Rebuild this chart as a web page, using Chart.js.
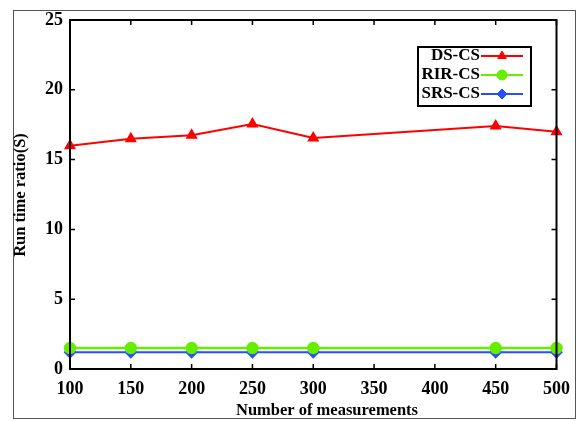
<!DOCTYPE html>
<html>
<head>
<meta charset="utf-8">
<script src="https://cdn.jsdelivr.net/npm/chart.js@4/dist/chart.umd.min.js"></script>
<style>
  html, body { margin: 0; padding: 0; background: #fff; }
  #wrap { position: relative; width: 580px; height: 421px; }
</style>
</head>
<body>
<div id="wrap"><canvas id="runChart" width="580" height="421"></canvas></div>
<script>
const measurements = [100, 150, 200, 250, 300, 450, 500];
const dsCs = [16.0, 16.5, 16.75, 17.55, 16.55, 17.4, 17.0];
const rirCs = [1.5, 1.5, 1.5, 1.5, 1.5, 1.5, 1.5];
const srsCs = [1.2, 1.2, 1.2, 1.2, 1.2, 1.2, 1.2];
const seriesNames = ["DS-CS", "RIR-CS", "SRS-CS"];
const xTitle = "Number of measurements";
const yTitle = "Run time ratio(S)";

const serif = "'Liberation Serif', 'DejaVu Serif', serif";

const toPoints = (vals) => measurements.map((m, i) => ({ x: m, y: vals[i] }));

// frame round the figure, box round the plot, inward ticks, legend top right
const framePlugin = {
  id: "frame",
  beforeDraw(chart) {
    const ctx = chart.ctx;
    ctx.save();
    ctx.fillStyle = "#fff";
    ctx.fillRect(0, 0, chart.width, chart.height);
    ctx.strokeStyle = "#555";
    ctx.lineWidth = 1;
    ctx.strokeRect(13.5, 10.5, 562, 408);
    ctx.restore();
  },
  afterDraw(chart) {
    const ctx = chart.ctx;
    const a = chart.chartArea;
    const xs = chart.scales.x;
    const ys = chart.scales.y;
    ctx.save();
    ctx.strokeStyle = "#000";
    ctx.lineWidth = 2;
    ctx.strokeRect(a.left, a.top, a.right - a.left, a.bottom - a.top);
    ctx.lineWidth = 1.5;
    ctx.beginPath();
    xs.ticks.forEach((t) => {
      const px = xs.getPixelForValue(t.value);
      ctx.moveTo(px, a.bottom); ctx.lineTo(px, a.bottom - 5);
      ctx.moveTo(px, a.top); ctx.lineTo(px, a.top + 5);
    });
    ys.ticks.forEach((t) => {
      const py = ys.getPixelForValue(t.value);
      ctx.moveTo(a.left, py); ctx.lineTo(a.left + 5, py);
      ctx.moveTo(a.right, py); ctx.lineTo(a.right - 5, py);
    });
    ctx.stroke();

    // axis titles
    ctx.fillStyle = "#000";
    ctx.font = "bold 16.5px " + serif;
    ctx.textAlign = "center";
    ctx.textBaseline = "middle";
    ctx.fillText(xTitle, 327, 411);
    ctx.translate(21, 195);
    ctx.rotate(-Math.PI / 2);
    ctx.fillText(yTitle, 0, 0);
    ctx.setTransform(1, 0, 0, 1, 0, 0);

    // legend
    const bx = 418, by = 47, bw = 113, bh = 59;
    ctx.fillStyle = "#fff";
    ctx.fillRect(bx, by, bw, bh);
    ctx.lineWidth = 2;
    ctx.strokeRect(bx, by, bw, bh);
    ctx.font = "bold 17px " + serif;
    ctx.textAlign = "right";
    ctx.textBaseline = "middle";
    chart.data.datasets.forEach((ds, i) => {
      const y = 56 + i * 19;
      ctx.fillStyle = "#000";
      ctx.fillText(ds.label, 480, y);
      ctx.strokeStyle = ds.borderColor;
      ctx.lineWidth = 2;
      ctx.beginPath();
      ctx.moveTo(481, y); ctx.lineTo(523, y);
      ctx.stroke();
      ctx.fillStyle = ds.backgroundColor;
      ctx.lineWidth = 1;
      Chart.helpers.drawPoint(ctx, {
        pointStyle: ds.pointStyle, radius: ds.pointRadius, borderWidth: 1
      }, 502, y);
    });
    ctx.restore();
  }
};

new Chart(document.getElementById("runChart"), {
  type: "line",
  data: {
    datasets: [
      {
        label: seriesNames[0],
        data: toPoints(dsCs),
        borderColor: "#ff0000",
        backgroundColor: "#ff0000",
        borderWidth: 2,
        pointStyle: "triangle",
        pointRadius: 5,
        tension: 0,
      },
      {
        label: seriesNames[1],
        data: toPoints(rirCs),
        borderColor: "#66ee00",
        backgroundColor: "#66ee00",
        borderWidth: 2.5,
        pointStyle: "circle",
        pointRadius: 5,
        tension: 0,
      },
      {
        label: seriesNames[2],
        data: toPoints(srsCs),
        borderColor: "#2a4dff",
        backgroundColor: "#2a4dff",
        borderWidth: 2,
        pointStyle: "rectRot",
        pointRadius: 5,
        tension: 0,
      },
    ],
  },
  options: {
    responsive: false,
    animation: false,
    devicePixelRatio: 1,
    clip: false,
    layout: { padding: { top: 20, right: 20, left: 0, bottom: 0 } },
    plugins: { legend: { display: false }, tooltip: { enabled: false } },
    scales: {
      x: {
        type: "linear",
        min: 100,
        max: 500,
        afterFit: (s) => { s.height = 52; },
        grid: { display: false, drawTicks: false },
        border: { display: false },
        ticks: {
          stepSize: 50,
          padding: 10,
          maxRotation: 0,
          autoSkip: false,
          color: "#000",
          font: { family: serif, size: 18, weight: "bold" },
        },
      },
      y: {
        min: 0,
        max: 25,
        afterFit: (s) => { s.width = 70; },
        grid: { display: false, drawTicks: false },
        border: { display: false },
        ticks: {
          stepSize: 5,
          padding: 7,
          color: "#000",
          font: { family: serif, size: 18, weight: "bold" },
        },
      },
    },
  },
  plugins: [framePlugin],
});
</script>
</body>
</html>
